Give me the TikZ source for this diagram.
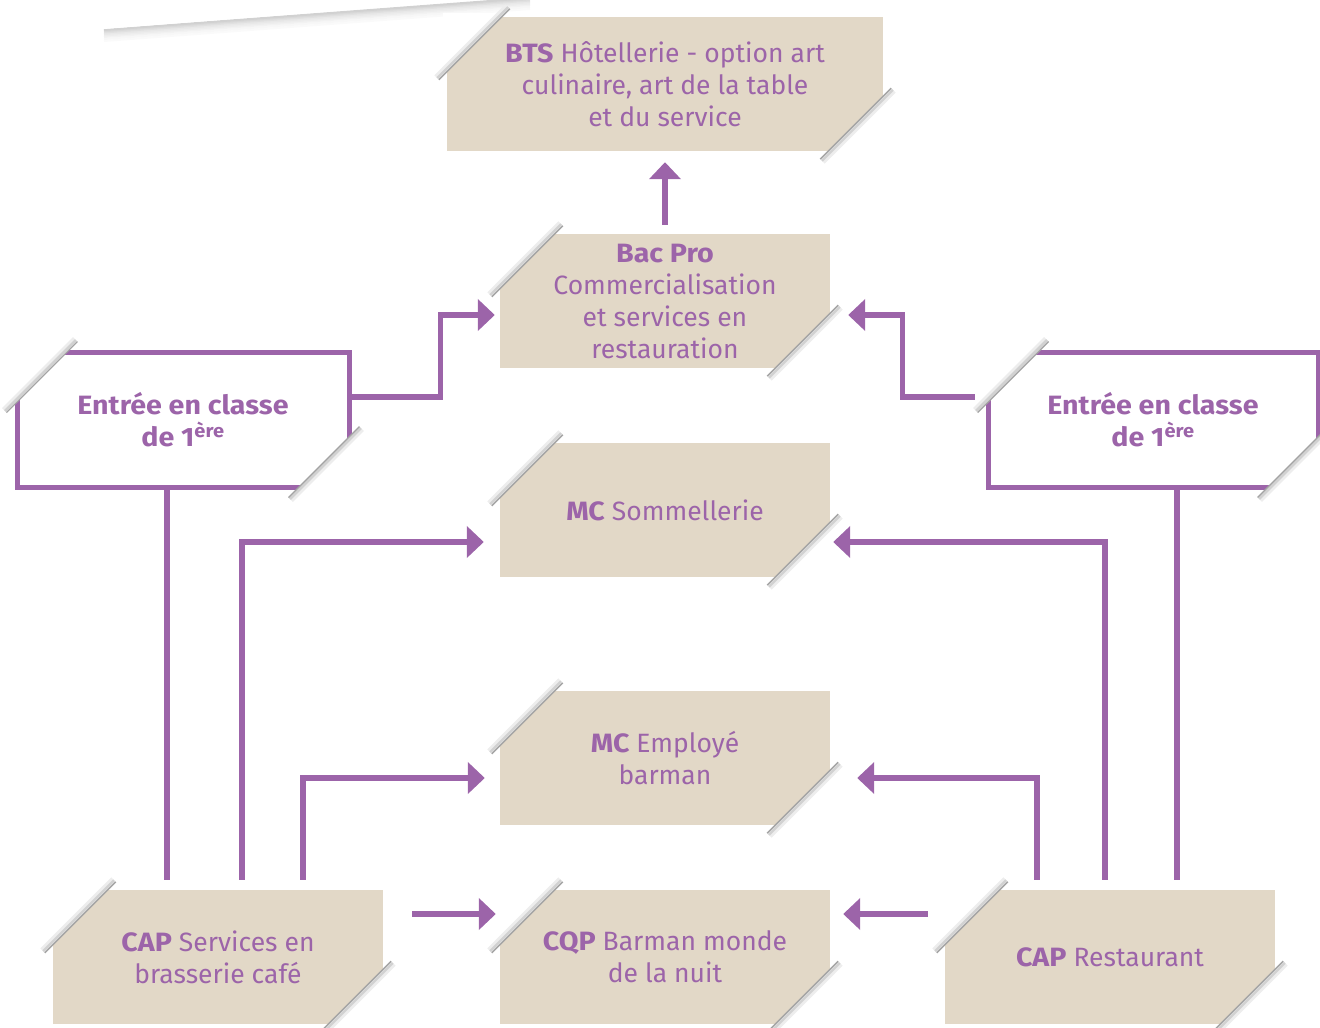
\documentclass[tikz,border=0pt]{standalone}
\usepackage{fontspec}
\setmainfont{Fira Sans}[BoldFeatures={FakeStretch=1.08}]
\usetikzlibrary{arrows.meta,calc}
\definecolor{purp}{HTML}{9C64A9}
\definecolor{beige}{HTML}{E2D8C7}
\def\fc{55}
\def\fe{8}
\newcommand\foldtl[1]{%
  \fill[white] ($(#1.north west)+(-4,-4)$) -- ($(#1.north west)+(\fc+4,-4)$) -- ($(#1.north west)+(-4,\fc+4)$) -- cycle;
  \draw[black!7,line width=3pt] ($(#1.north west)+(\fc+\fe-3.4,-\fe-3.4)$) -- ($(#1.north west)+(-\fe-3.4,\fc+\fe-3.4)$);
  \draw[black!18,line width=2.5pt] ($(#1.north west)+(\fc+\fe-1.6,-\fe-1.6)$) -- ($(#1.north west)+(-\fe-1.6,\fc+\fe-1.6)$);
  \draw[black!36,line width=1.4pt] ($(#1.north west)+(\fc+\fe,-\fe)$) -- ($(#1.north west)+(-\fe,\fc+\fe)$);
}
\newcommand\foldbr[1]{%
  \fill[white] ($(#1.south east)+(4,4)$) -- ($(#1.south east)+(-\fc-4,4)$) -- ($(#1.south east)+(4,-\fc-4)$) -- cycle;
  \draw[black!7,line width=3pt] ($(#1.south east)+(-\fc-\fe+3.4,\fe+3.4)$) -- ($(#1.south east)+(\fe+3.4,-\fc-\fe+3.4)$);
  \draw[black!18,line width=2.5pt] ($(#1.south east)+(-\fc-\fe+1.6,\fe+1.6)$) -- ($(#1.south east)+(\fe+1.6,-\fc-\fe+1.6)$);
  \draw[black!36,line width=1.4pt] ($(#1.south east)+(-\fc-\fe,\fe)$) -- ($(#1.south east)+(\fe,-\fc-\fe)$);
}
\begin{document}
\begin{tikzpicture}[x=1pt,y=-1pt,
  txt/.style={text=purp, align=center, font=\fontsize{26.5}{32}\selectfont},
  boxnode/.style={txt, fill=beige, minimum width=330pt, minimum height=134pt, inner sep=0pt},
  entnode/.style={txt, draw=purp, line width=5pt, fill=white, minimum width=332pt, minimum height=135pt, inner sep=0pt, font=\fontsize{26.5}{32}\selectfont\bfseries},
  conn/.style={draw=purp, line width=5.5pt},
  arr/.style={conn, -{Triangle[width=31pt,length=17pt]}}
]
\useasboundingbox (0,0) rectangle (1320,1028);
% paper sheet top-left (soft shadow under its lower edge)
\foreach \o/\c in {12/2,10/3,8/5,6.5/7,5/9,3.5/12,2.2/15,1/18}
  \draw[black!\c, line width=2pt] (104,29+\o) -- (530,\o-3);
\draw[black!8, line width=1pt] (101,-2) -- (104,29);
\fill[white] (95,-5) -- (102,29) -- (104,29) -- (530,-4) -- cycle;

% nodes
\node[boxnode, minimum width=436pt] (bts) at (665,84) {\textbf{BTS} Hôtellerie - option art\\culinaire, art de la table\\et du service};
\node[boxnode] (bac) at (665,301) {\textbf{Bac Pro}\\Commercialisation\\et services en\\restauration};
\node[boxnode] (som) at (665,510) {\textbf{MC} Sommellerie};
\node[boxnode] (emp) at (665,758) {\textbf{MC} Employé\\barman};
\node[boxnode] (cqp) at (665,957) {\textbf{CQP} Barman monde\\de la nuit};
\node[boxnode] (capS) at (218,957) {\textbf{CAP} Services en\\brasserie café};
\node[boxnode] (capR) at (1110,957) {\textbf{CAP} Restaurant};
\node[entnode] (entL) at (183,419.5) {Entrée en classe\\de 1\textsuperscript{ère}};
\node[entnode, minimum width=330pt] (entR) at (1153,419.5) {Entrée en classe\\de 1\textsuperscript{ère}};

% folds
\foreach \n in {bts,bac,som,emp,cqp,capS,capR,entL,entR} {\foldtl{\n}\foldbr{\n}}

% connectors
\draw[arr] ($(bac.north)+(0,-9)$) -- ($(bts.south)+(0,11)$);
\draw[arr] ($(entL.east)+(0,-22.5)$) -- ++(89,0) |- ($(bac.west)+(-5,14)$);
\draw[arr] ($(entR.west)+(-11,-22.5)$) -- ++(-72,0) |- ($(bac.east)+(18,14)$);
\draw[conn] ($(entL.south)+(-16,0)$) -- ($(capS.north)+(-51,-10)$);
\draw[arr] ($(capS.north)+(24,-10)$) |- ($(som.west)+(-16,32)$);
\draw[arr] ($(capS.north)+(85,-10)$) |- ($(emp.west)+(-15,20)$);
\draw[arr] ($(capS.east)+(29,-43)$) -- ($(cqp.west)+(-4,-43)$);
\draw[arr] ($(capR.west)+(-17,-43)$) -- ($(cqp.east)+(13,-43)$);
\draw[arr] ($(capR.north)+(-73,-10)$) |- ($(emp.east)+(27,20)$);
\draw[arr] ($(capR.north)+(-5,-10)$) |- ($(som.east)+(3,32)$);
\draw[conn] ($(entR.south)+(24,0)$) -- ($(capR.north)+(67,-10)$);
\end{tikzpicture}
\end{document}
